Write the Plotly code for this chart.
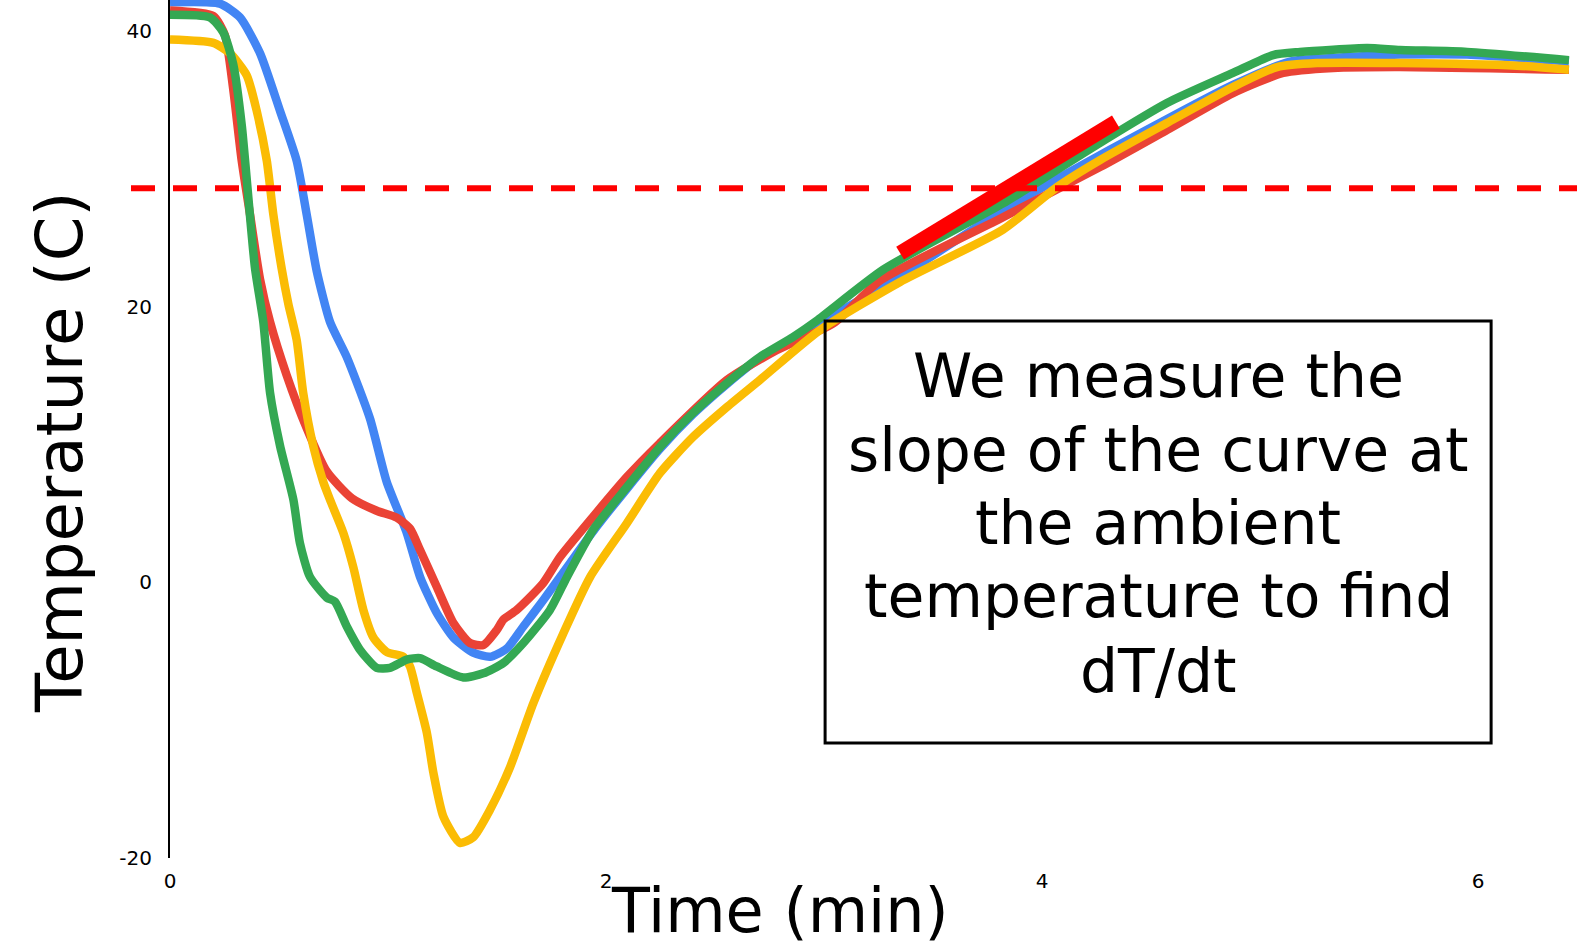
import plotly.graph_objects as go

# ---- data (time in minutes, temperature in °C) ----
blue_t = [0.0, 0.229, 0.321, 0.413, 0.505, 0.581, 0.627, 0.673, 0.734, 0.811, 0.917, 0.994,
          1.086, 1.147, 1.223, 1.300, 1.391, 1.468, 1.545, 1.621, 1.712, 1.835, 1.950,
          2.096, 2.248, 2.399, 2.555, 2.706, 2.858, 3.349, 3.821, 4.266, 4.876, 5.138,
          5.335, 5.642, 5.950, 6.417]
blue_T = [42.1, 42.0, 41.0, 38.4, 34.2, 30.6, 26.7, 22.6, 18.9, 16.35, 11.9, 7.3,
          3.6, 0.4, -2.2, -4.0, -5.1, -5.4, -4.8, -3.2, -1.3, 1.4, 3.9,
          6.8, 9.7, 12.2, 14.4, 16.3, 17.7, 22.2, 27.0, 31.0, 36.1, 37.8,
          38.05, 38.3, 38.3, 37.8]

red_t = [0.0, 0.199, 0.252, 0.290, 0.329, 0.367, 0.413, 0.459, 0.535, 0.627, 0.719, 0.835,
         0.948, 1.040, 1.101, 1.147, 1.223, 1.300, 1.376, 1.437, 1.499, 1.529, 1.590,
         1.712, 1.789, 1.940, 2.096, 2.248, 2.555, 2.784, 3.043, 3.257, 3.821, 4.266,
         4.573, 4.876, 5.106, 5.335, 5.642, 6.417]
red_T = [41.5, 41.1, 39.7, 35.8, 30.6, 26.7, 22.0, 18.9, 15.05, 11.2, 8.05, 6.1,
         5.2, 4.7, 3.9, 2.35, -0.3, -2.95, -4.4, -4.55, -3.45, -2.7, -2.0,
         -0.05, 1.84, 4.75, 7.65, 10.12, 14.69, 16.86, 18.8, 21.9, 26.5, 30.14,
         32.83, 35.51, 36.97, 37.33, 37.4, 37.2]

yellow_t = [0.0, 0.199, 0.275, 0.352, 0.398, 0.444, 0.474, 0.512, 0.543, 0.581, 0.611, 0.657,
            0.703, 0.734, 0.795, 0.841, 0.887, 0.933, 0.994, 1.070, 1.101, 1.132, 1.178,
            1.208, 1.254, 1.330, 1.391, 1.468, 1.560, 1.667, 1.804, 1.927, 2.096, 2.248,
            2.399, 2.555, 2.706, 2.982, 3.349, 3.821, 4.069, 4.266, 4.573, 4.876, 5.078,
            5.261, 5.642, 6.179, 6.417]
yellow_T = [39.4, 39.15, 38.4, 36.8, 34.2, 30.6, 26.7, 22.8, 20.2, 17.6, 13.75, 9.9,
            7.3, 6.0, 3.6, 1.1, -2.0, -4.0, -5.05, -5.4, -6.1, -8.0, -10.9,
            -13.8, -17.0, -18.9, -18.5, -16.5, -13.4, -8.75, -3.7, 0.39, 4.31, 7.94,
            10.55, 12.73, 14.69, 18.32, 21.8, 25.6, 28.7, 30.65, 33.34, 35.95, 37.4,
            37.69, 37.69, 37.5, 37.2]

green_t = [0.0, 0.183, 0.245, 0.290, 0.329, 0.359, 0.390, 0.428, 0.459, 0.505, 0.566, 0.596,
           0.642, 0.719, 0.757, 0.811, 0.872, 0.948, 1.009, 1.086, 1.147, 1.223, 1.345,
           1.437, 1.529, 1.621, 1.743, 1.821, 1.940, 2.096, 2.248, 2.399, 2.555, 2.706,
           2.858, 2.967, 3.272, 3.821, 4.266, 4.573, 4.876, 5.060, 5.183, 5.491, 5.642,
           5.950, 6.417]
green_T = [41.2, 41.0, 39.9, 37.6, 33.2, 28.0, 22.8, 18.9, 13.75, 9.9, 6.0, 2.85,
           0.4, -1.1, -1.4, -3.2, -4.9, -6.2, -6.2, -5.6, -5.5, -6.1, -6.9,
           -6.6, -5.85, -4.4, -2.0, 0.4, 3.8, 6.92, 9.83, 12.29, 14.47, 16.36,
           17.81, 19.0, 22.7, 27.5, 31.9, 34.79, 36.97, 38.27, 38.49, 38.78, 38.64,
           38.5, 37.9]

ambient_T = 28.6
slope_t = [3.349, 4.339]
slope_T = [23.9, 33.41]

x_ticks = [0, 2, 4, 6]
y_ticks = [-20, 0, 20, 40]

box_lines = ["We measure the", "slope of the curve at", "the ambient",
             "temperature to find", "dT/dt"]

# ---- layout constants ----
W, H = 1577, 947
ML, MR, MT, MB = 170, 0, 0, 89
X_RANGE = [0, 6.454]
Y_RANGE = [-20, 42.264]
FONT = "DejaVu Sans"
plot_h = H - MT - MB


def ypaper(v):
    return (v - Y_RANGE[0]) / (Y_RANGE[1] - Y_RANGE[0])


fig = go.Figure()
series = [
    (blue_t, blue_T, "#4285F4"),
    (red_t, red_T, "#EA4335"),
    (yellow_t, yellow_T, "#FBBC04"),
    (green_t, green_T, "#34A853"),
]
for t, T, c in series:
    fig.add_trace(go.Scatter(x=t, y=T, mode="lines",
                             line=dict(color=c, width=8.5, shape="spline", smoothing=0.6),
                             hoverinfo="skip", showlegend=False))

# thick tangent segment
fig.add_trace(go.Scatter(x=slope_t, y=slope_T, mode="lines",
                         line=dict(color="#FF0000", width=15),
                         hoverinfo="skip", showlegend=False))

shapes = [
    dict(type="line", xref="paper", yref="paper",
         x0=(131 - ML) / (W - ML - MR), x1=1.0,
         y0=ypaper(ambient_T), y1=ypaper(ambient_T),
         line=dict(color="#FF0000", width=6, dash="24px,18px"), layer="above"),
    dict(type="rect", xref="x", yref="y", x0=3.005, x1=6.06, y0=-11.65, y1=18.97,
         line=dict(color="black", width=3), fillcolor="rgba(0,0,0,0)", layer="above"),
]

annotations = []
line_centers = [376, 450, 523, 596, 671]
for txt, py in zip(box_lines, line_centers):
    annotations.append(dict(text=txt, xref="x", yref="paper", x=4.532,
                            y=(plot_h - py) / plot_h, xanchor="center", yanchor="middle",
                            showarrow=False, font=dict(family=FONT, size=60, color="black")))

annotations.append(dict(text="Temperature (C)", xref="paper", yref="paper", x=0,
                        y=(plot_h - 453) / plot_h, xshift=60 - ML, xanchor="center",
                        yanchor="middle", textangle=-90, showarrow=False,
                        font=dict(family=FONT, size=64, color="black")))
annotations.append(dict(text="Time (min)", xref="paper", yref="paper",
                        x=(780 - ML) / (W - ML - MR), y=(plot_h - 910) / plot_h,
                        xanchor="center", yanchor="middle", showarrow=False,
                        font=dict(family=FONT, size=62, color="black")))

tick_font = dict(family="DejaVu Sans", size=20, color="black")
fig.update_layout(
    width=W, height=H,
    margin=dict(l=ML, r=MR, t=MT, b=MB, pad=0, autoexpand=False),
    paper_bgcolor="white", plot_bgcolor="white",
    shapes=shapes, annotations=annotations,
    xaxis=dict(range=X_RANGE, tickvals=x_ticks, ticktext=[str(v) for v in x_ticks],
               showgrid=False, zeroline=False, showline=False, ticks="",
               automargin=False, ticklabelstandoff=9, tickfont=tick_font),
    yaxis=dict(range=Y_RANGE, tickvals=y_ticks, ticktext=[str(v) for v in y_ticks],
               showgrid=False, zeroline=False, showline=True, linecolor="black",
               linewidth=2, ticks="", ticklabelstandoff=12, automargin=False,
               tickfont=tick_font),
)

fig.write_html("out.html", config={"displayModeBar": False},
               post_script="document.body.style.margin='0';document.body.style.overflow='hidden';")
